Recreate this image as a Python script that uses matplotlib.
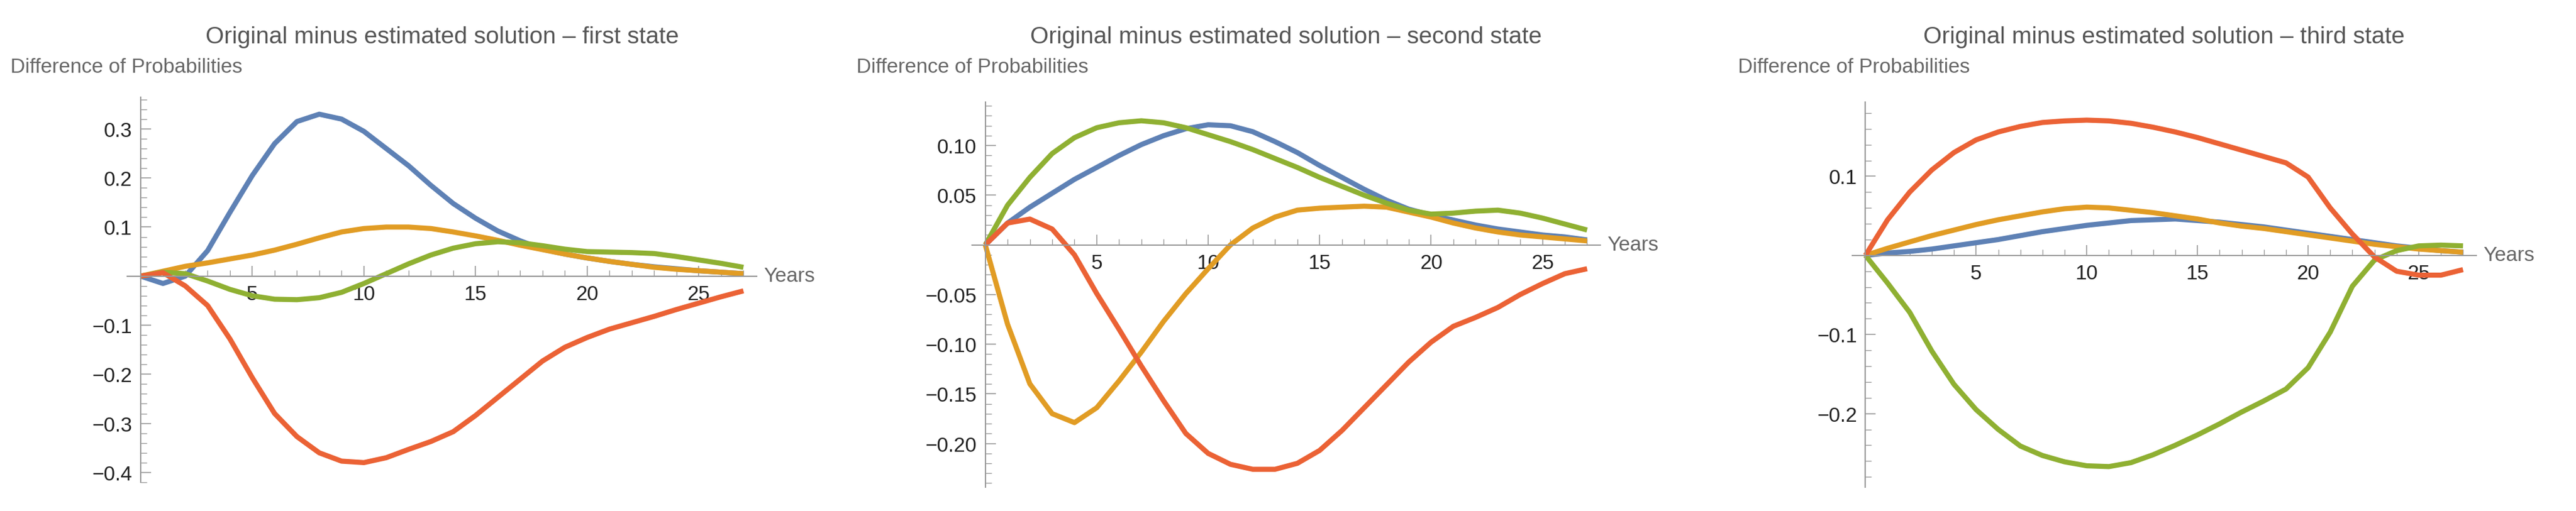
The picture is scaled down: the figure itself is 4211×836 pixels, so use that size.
import matplotlib
matplotlib.use("Agg")
import matplotlib.pyplot as plt
from matplotlib.ticker import MultipleLocator, FuncFormatter

years = list(range(28))

# Panel 1 - first state
p1_blue = [0, -0.015, 0.0, 0.052, 0.13, 0.205, 0.27, 0.315, 0.33, 0.32, 0.295, 0.26, 0.225, 0.185,
           0.148, 0.118, 0.092, 0.072, 0.055, 0.045, 0.037, 0.03, 0.024, 0.019, 0.015, 0.011, 0.008, 0.005]
p1_orange = [0, 0.01, 0.02, 0.027, 0.035, 0.043, 0.053, 0.065, 0.078, 0.09, 0.097, 0.1, 0.1, 0.097,
             0.09, 0.082, 0.073, 0.063, 0.054, 0.045, 0.037, 0.03, 0.024, 0.018, 0.014, 0.011, 0.008, 0.005]
p1_green = [0, 0.008, 0.005, -0.01, -0.027, -0.04, -0.047, -0.048, -0.044, -0.033, -0.015, 0.005, 0.025, 0.043,
            0.057, 0.066, 0.07, 0.068, 0.062, 0.055, 0.05, 0.049, 0.048, 0.046, 0.04, 0.033, 0.026, 0.018]
p1_red = [0, 0.007, -0.02, -0.06, -0.128, -0.207, -0.28, -0.327, -0.36, -0.377, -0.38, -0.37, -0.353, -0.337,
          -0.317, -0.284, -0.247, -0.21, -0.173, -0.145, -0.125, -0.108, -0.095, -0.082, -0.068, -0.055, -0.042, -0.03]

# Panel 2 - second state
p2_blue = [0, 0.022, 0.038, 0.052, 0.066, 0.078, 0.09, 0.101, 0.11, 0.117, 0.121, 0.12, 0.114, 0.104,
           0.093, 0.08, 0.068, 0.056, 0.045, 0.036, 0.03, 0.025, 0.02, 0.016, 0.013, 0.01, 0.008, 0.005]
p2_orange = [0, -0.08, -0.14, -0.17, -0.179, -0.164, -0.137, -0.108, -0.077, -0.049, -0.024, 0.0, 0.017, 0.028,
             0.035, 0.037, 0.038, 0.039, 0.038, 0.033, 0.028, 0.022, 0.017, 0.013, 0.01, 0.008, 0.006, 0.004]
p2_green = [0, 0.04, 0.068, 0.092, 0.108, 0.118, 0.123, 0.125, 0.123, 0.118, 0.111, 0.104, 0.096, 0.087,
            0.078, 0.068, 0.059, 0.05, 0.042, 0.035, 0.031, 0.032, 0.034, 0.035, 0.032, 0.027, 0.021, 0.015]
p2_red = [0, 0.022, 0.026, 0.016, -0.01, -0.049, -0.085, -0.122, -0.157, -0.19, -0.21, -0.221, -0.226, -0.226,
          -0.22, -0.207, -0.187, -0.164, -0.141, -0.118, -0.098, -0.082, -0.073, -0.063, -0.05, -0.039, -0.029, -0.024]

# Panel 3 - third state
p3_blue = [0, 0.003, 0.005, 0.008, 0.012, 0.016, 0.02, 0.025, 0.03, 0.034, 0.038, 0.041, 0.044, 0.045,
           0.046, 0.044, 0.042, 0.039, 0.036, 0.032, 0.028, 0.024, 0.02, 0.016, 0.012, 0.009, 0.006, 0.004]
p3_orange = [0, 0.009, 0.017, 0.025, 0.032, 0.039, 0.045, 0.05, 0.055, 0.059, 0.061, 0.06, 0.057, 0.054,
             0.05, 0.046, 0.041, 0.037, 0.034, 0.03, 0.026, 0.022, 0.018, 0.014, 0.011, 0.008, 0.006, 0.004]
p3_green = [0, -0.035, -0.072, -0.121, -0.163, -0.195, -0.22, -0.241, -0.253, -0.261, -0.266, -0.267, -0.262, -0.252,
            -0.24, -0.227, -0.213, -0.198, -0.184, -0.169, -0.142, -0.097, -0.039, -0.006, 0.006, 0.012, 0.013, 0.012]
p3_red = [0, 0.045, 0.08, 0.108, 0.13, 0.146, 0.156, 0.163, 0.168, 0.17, 0.171, 0.17, 0.167, 0.162,
          0.156, 0.149, 0.141, 0.133, 0.125, 0.117, 0.099, 0.06, 0.027, -0.002, -0.02, -0.025, -0.025, -0.018]

titles = ["Original minus estimated solution \u2013 first state",
          "Original minus estimated solution \u2013 second state",
          "Original minus estimated solution \u2013 third state"]
colors = ["#5E81B5", "#E19C24", "#8FB032", "#EB6235"]

panels = [
    dict(series=[p1_blue, p1_orange, p1_green, p1_red], ylim=(-0.42, 0.365), major=0.1, minor=0.02, dec=1,
         rect=[0.0494, 0.0562, 0.2444, 0.753], ylab_x=0.004),
    dict(series=[p2_blue, p2_orange, p2_green, p2_red], ylim=(-0.244, 0.144), major=0.05, minor=0.01, dec=2,
         rect=[0.3773, 0.0466, 0.2440, 0.753], ylab_x=0.3325),
    dict(series=[p3_blue, p3_orange, p3_green, p3_red], ylim=(-0.293, 0.194), major=0.1, minor=0.02, dec=1,
         rect=[0.7190, 0.0466, 0.2423, 0.753], ylab_x=0.6746),
]

plt.rcParams['font.family'] = ['Liberation Sans', 'DejaVu Sans']
fig = plt.figure(figsize=(42.11, 8.37), dpi=100)

for i, p in enumerate(panels):
    ax = fig.add_axes(p["rect"])
    for s, c in zip(p["series"], colors):
        ax.plot(years, s, color=c, lw=6, solid_capstyle='butt', solid_joinstyle='round')
    ax.set_xlim(-0.6, 27.6)
    ax.set_ylim(*p["ylim"])
    for k in ['top', 'right']:
        ax.spines[k].set_visible(False)
    ax.spines['left'].set_position(('data', 0))
    ax.spines['bottom'].set_position(('data', 0))
    for k in ['left', 'bottom']:
        ax.spines[k].set_color('#999999')
        ax.spines[k].set_linewidth(1.5)
    ax.xaxis.set_major_locator(MultipleLocator(5))
    ax.xaxis.set_minor_locator(MultipleLocator(1))
    ax.yaxis.set_major_locator(MultipleLocator(p["major"]))
    ax.yaxis.set_minor_locator(MultipleLocator(p["minor"]))
    dec = p["dec"]
    ax.xaxis.set_major_formatter(FuncFormatter(lambda v, pos: "" if abs(v) < 1e-9 else f"{v:.0f}"))
    ax.yaxis.set_major_formatter(FuncFormatter(
        lambda v, pos, d=dec: "" if abs(v) < 1e-9 else f"{v:.{d}f}".replace("-", "\u2212")))
    ax.tick_params(which='major', direction='in', length=12, width=1.2, color='#999999',
                   labelsize=24, labelcolor='#222222', pad=10)
    ax.tick_params(which='minor', direction='in', length=7, width=1.0, color='#999999')
    ax.set_facecolor('none')
    ax.text(27.9, 0, "Years", fontsize=24, color='#666666', va='center', ha='left')
    ax.set_title(titles[i], fontsize=28, color='#555555', pad=0, y=1.0)
    ax.title.set_position((0.5, 1.0))
    ax.title.set_transform(fig.transFigure)
    ax.title.set_x(p["rect"][0] + p["rect"][2] / 2)
    ax.title.set_y(0.915)
    fig.text(p["ylab_x"], 0.868, "Difference of Probabilities", fontsize=24, color='#666666',
             ha='left', va='center')

fig.savefig("out.png", dpi=100)
